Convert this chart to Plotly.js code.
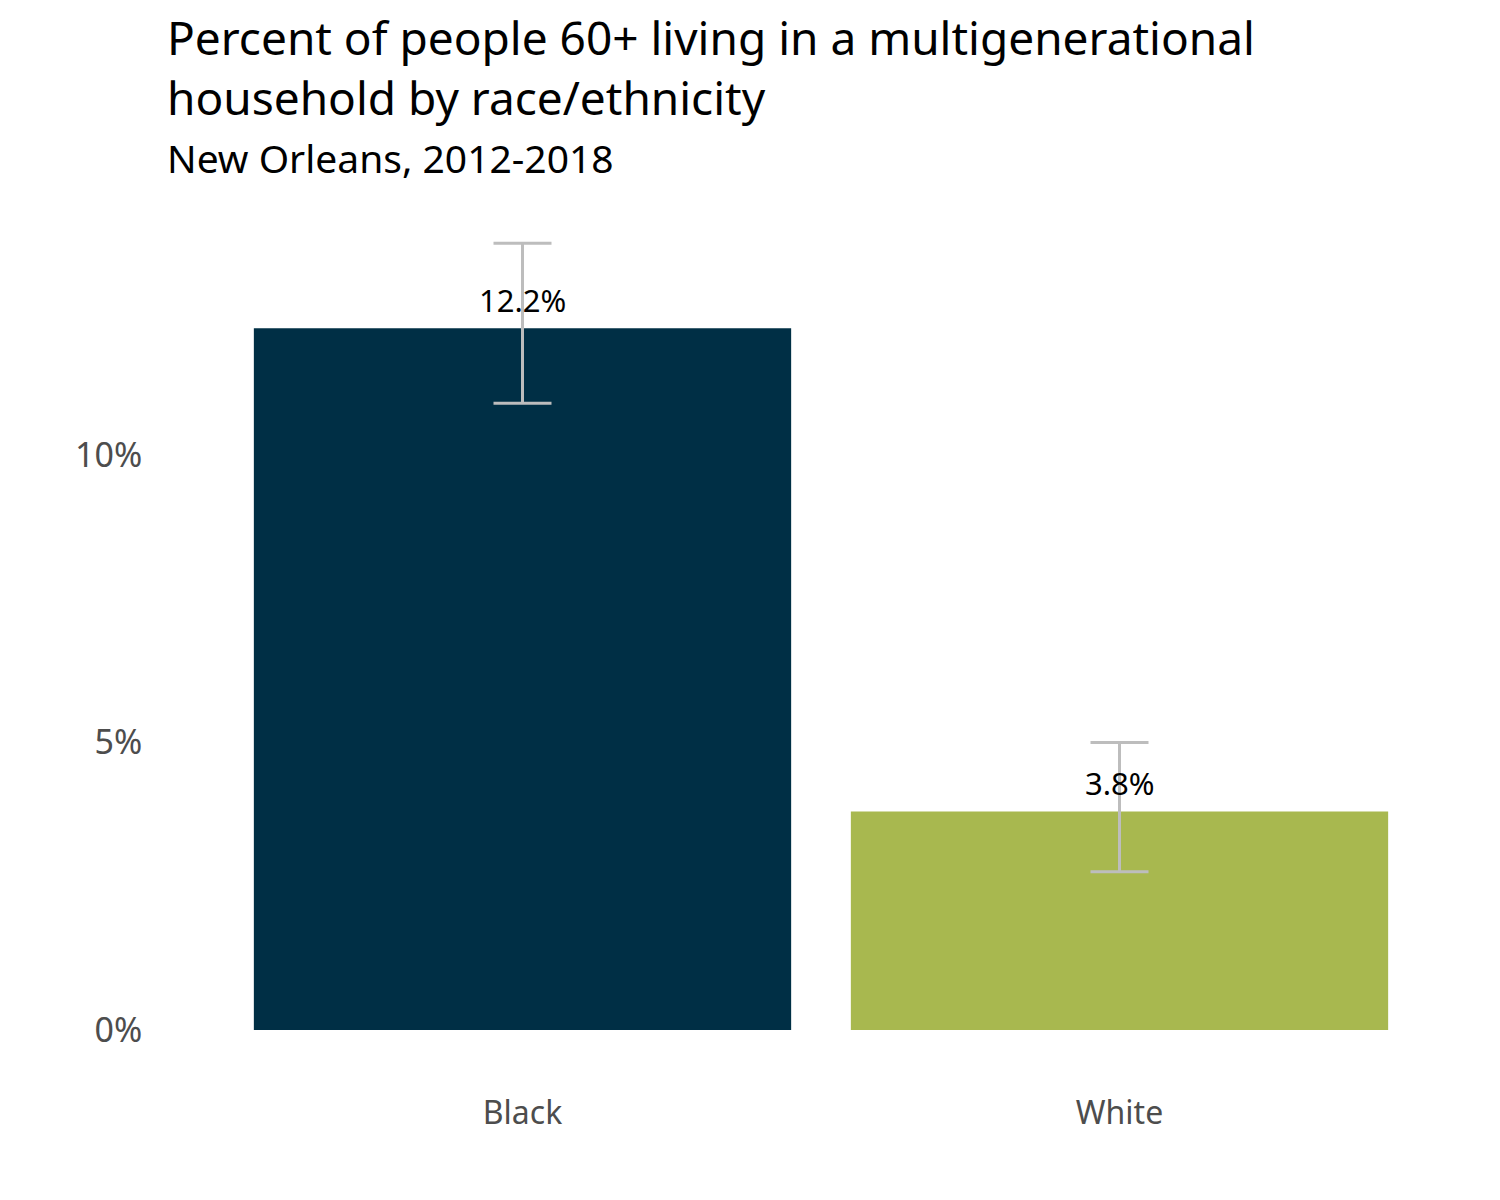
<!DOCTYPE html>
<html>
<head>
<meta charset="utf-8">
<script src="https://cdn.plot.ly/plotly-3.0.1.min.js"></script>
<style>html,body{margin:0;padding:0;background:#fff;}#chart{width:1500px;height:1200px;}</style>
</head>
<body>
<div id="chart"></div>
<script>
const categories = ["Black", "White"];
const values = [12.2, 3.8];
const errorUpper = [13.68, 5.0];
const errorLower = [10.9, 2.75];
const valueLabels = ["12.2%", "3.8%"];
const barColors = ["#002f45", "#a8b84f"];
const yTickVals = [0, 5, 10];
const yTickText = ["0%", "5%", "10%"];
const titleLines = ["Percent of people 60+ living in a multigenerational", "household by race/ethnicity"];
const subtitle = "New Orleans, 2012-2018";

const FONT = "'Noto Sans', sans-serif";

const trace = {
  type: "bar",
  x: categories,
  y: values,
  width: 0.9,
  marker: {color: barColors},
  error_y: {
    type: "data",
    symmetric: false,
    array: values.map((v, i) => errorUpper[i] - v),
    arrayminus: values.map((v, i) => v - errorLower[i]),
    color: "#bdbdbd",
    thickness: 3,
    width: 29
  },
  hoverinfo: "none"
};

const annotations = categories.map((c, i) => ({
  x: c, y: values[i], xref: "x", yref: "y",
  text: valueLabels[i], showarrow: false,
  yanchor: "middle", yshift: 28,
  font: {family: FONT, size: 31, color: "#000"}
}));
annotations.push({
  xref: "paper", yref: "paper", x: -0.0495, y: 1.1978,
  xanchor: "left", yanchor: "middle", align: "left",
  text: titleLines.join("<br>"), showarrow: false,
  font: {family: FONT, size: 46, color: "#000"}
});
annotations.push({
  xref: "paper", yref: "paper", x: -0.0495, y: 1.0858,
  xanchor: "left", yanchor: "middle",
  text: subtitle, showarrow: false,
  font: {family: FONT, size: 39, color: "#000"}
});

const layout = {
  width: 1500, height: 1200,
  margin: {l: 224, r: 82, t: 226, b: 170},
  paper_bgcolor: "#fff", plot_bgcolor: "#fff",
  showlegend: false,
  xaxis: {
    range: [-0.5, 1.5],
    showgrid: false, zeroline: false, showline: false,
    ticks: "outside", ticklen: 55, tickcolor: "rgba(0,0,0,0)",
    tickfont: {family: FONT, size: 32, color: "#4d4d4d"}
  },
  yaxis: {
    range: [0, 13.98],
    tickvals: yTickVals, ticktext: yTickText,
    showgrid: false, zeroline: false, showline: false,
    ticks: "outside", ticklen: 74, tickcolor: "rgba(0,0,0,0)",
    tickfont: {family: FONT, size: 34, color: "#4d4d4d"}
  },
  annotations: annotations
};

Plotly.newPlot("chart", [trace], layout, {displayModeBar: false, staticPlot: true});
</script>
</body>
</html>
